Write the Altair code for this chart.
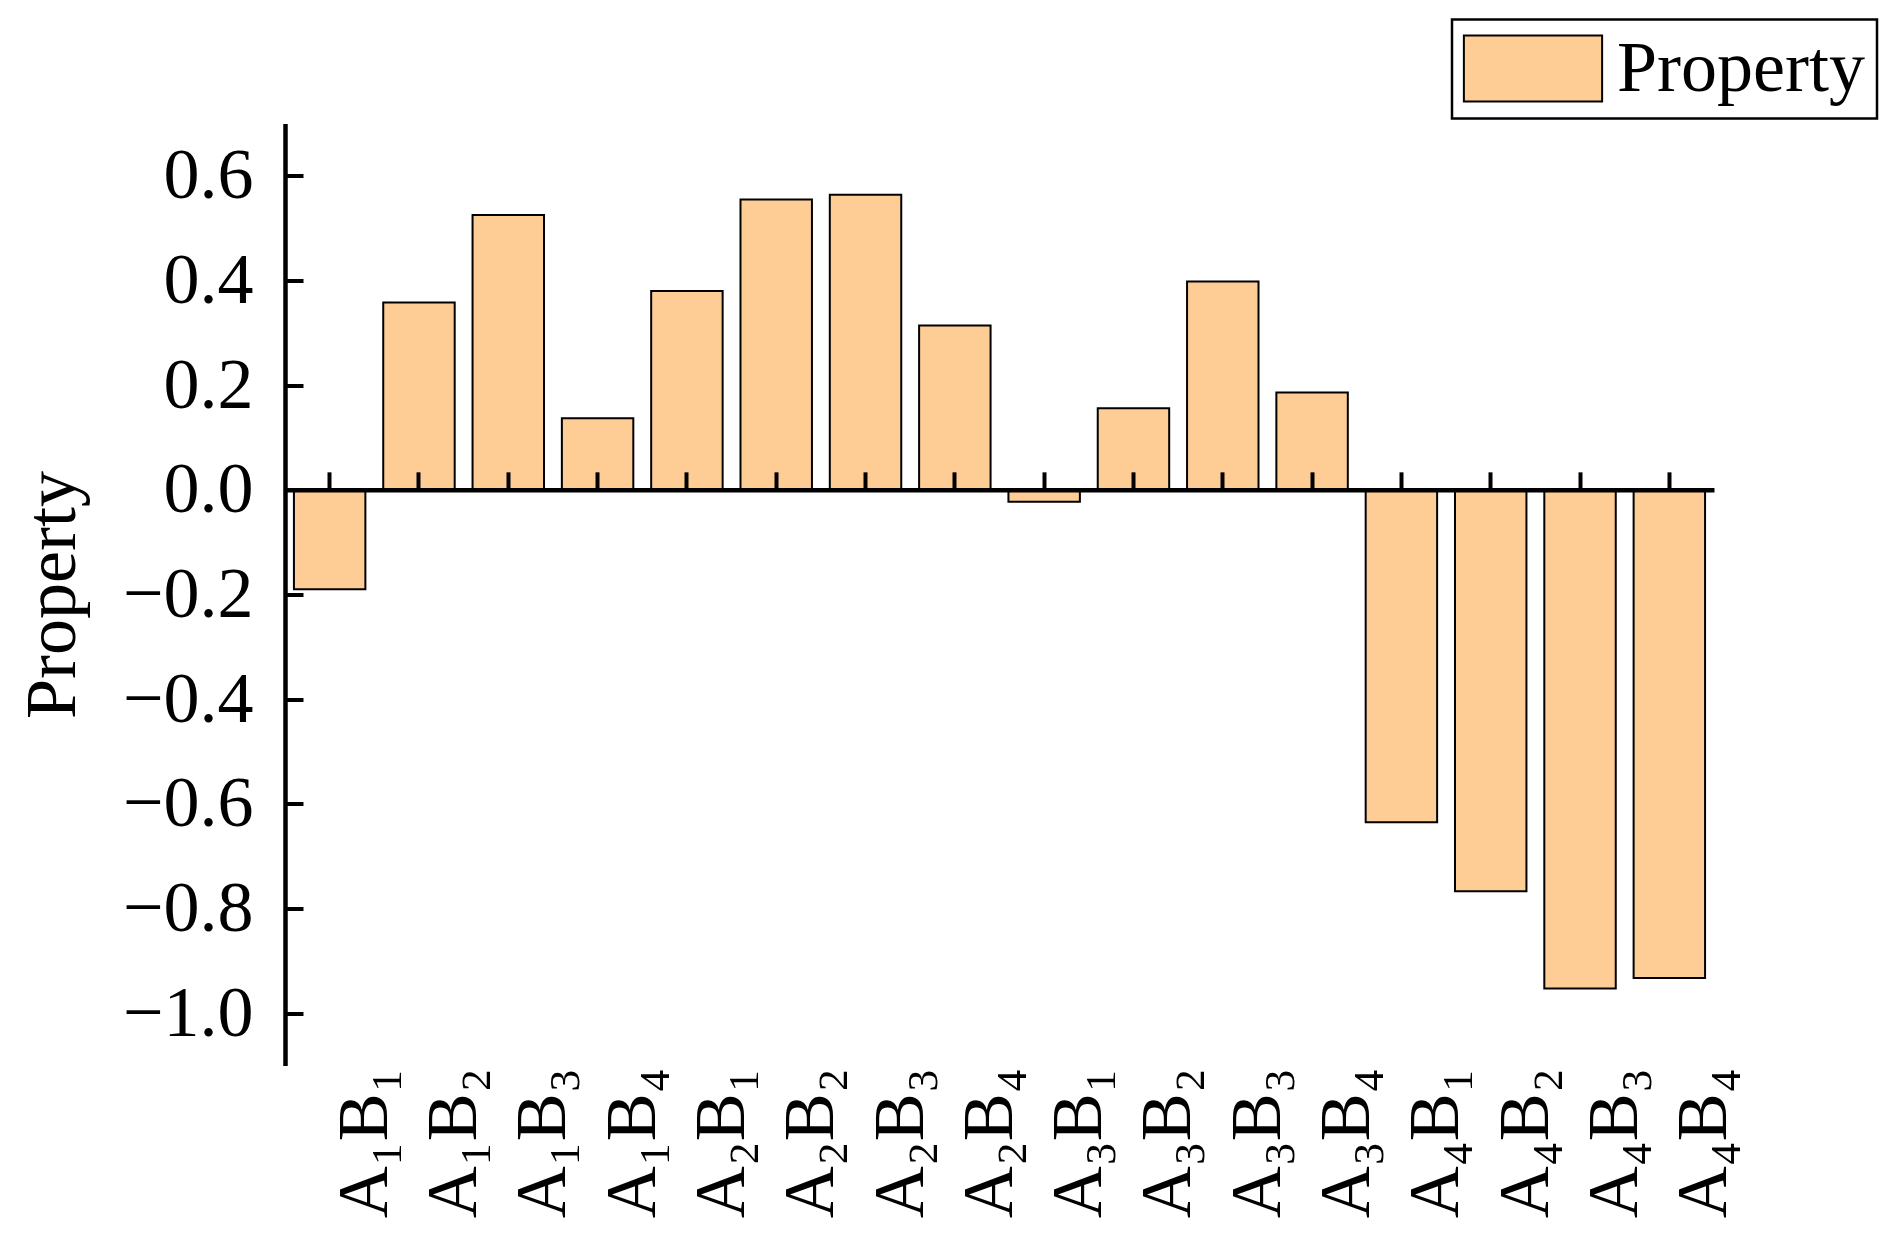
import altair as alt
import pandas as pd

categories = ["A₁B₁", "A₁B₂", "A₁B₃", "A₁B₄",
              "A₂B₁", "A₂B₂", "A₂B₃", "A₂B₄",
              "A₃B₁", "A₃B₂", "A₃B₃", "A₃B₄",
              "A₄B₁", "A₄B₂", "A₄B₃", "A₄B₄"]
values = [-0.19, 0.358, 0.525, 0.137,
          0.380, 0.555, 0.564, 0.314,
          -0.023, 0.156, 0.398, 0.186,
          -0.635, -0.767, -0.953, -0.933]
series_name = "Property"
y_tick_values = [-1.0, -0.8, -0.6, -0.4, -0.2, 0.0, 0.2, 0.4, 0.6]
y_domain = [-1.1, 0.7]

df = pd.DataFrame({
    "category": categories,
    "value": values,
    "series": [series_name] * len(categories),
})

W, H = 1429, 942
FONT = "Liberation Serif"
FILL = "#FECD96"
FS = 72
LINE = 4.5

zero_px = H * (y_domain[1] - 0) / (y_domain[1] - y_domain[0])

x_scale = alt.Scale(paddingInner=0.2, paddingOuter=0.1)
y_scale = alt.Scale(domain=y_domain, nice=False)

bars = alt.Chart(df).mark_bar(stroke="black", strokeWidth=2).encode(
    x=alt.X("category:N", sort=categories, scale=x_scale,
            axis=alt.Axis(orient="bottom", domain=False, ticks=False, tickSize=0,
                          labelAngle=270, labelAlign="right", labelBaseline="top",
                          labelPadding=2, labelFont=FONT, labelFontSize=FS,
                          labelColor="black", labelLimit=400, title=None, grid=False)),
    y=alt.Y("value:Q", scale=y_scale, stack=None,
            axis=alt.Axis(orient="left", values=y_tick_values, format=".1f",
                          domain=False, ticks=False, tickSize=0, labelPadding=32,
                          labelFont=FONT, labelFontSize=FS, labelColor="black",
                          title="Property", titleFont=FONT, titleFontSize=FS,
                          titleFontWeight="normal", titleColor="black",
                          titlePadding=33, grid=False)),
    color=alt.Color("series:N", scale=alt.Scale(range=[FILL]),
                    legend=alt.Legend(
                        title=None, orient="none", legendX=1167, legendY=-104,
                        symbolType="M-1.92,-0.917L1.92,-0.917L1.92,0.917L-1.92,0.917Z",
                        symbolSize=5184, symbolStrokeColor="black", symbolStrokeWidth=2,
                        symbolOffset=32, labelOffset=47, labelFont=FONT,
                        labelFontSize=FS, labelColor="black", labelLimit=400,
                        strokeColor="black", fillColor="white", padding=12)),
)

frame = alt.Chart(df).mark_bar(opacity=0).encode(
    x=alt.X("category:N", sort=categories, scale=x_scale,
            axis=alt.Axis(orient="top", offset=-zero_px, labels=False, ticks=True,
                          tickSize=18, tickWidth=4, tickColor="black",
                          domainWidth=LINE, domainColor="black", title=None,
                          grid=False, zindex=1)),
    y=alt.Y("value:Q", scale=y_scale, stack=None,
            axis=alt.Axis(orient="right", offset=-W, values=y_tick_values,
                          labels=False, tickSize=18, tickWidth=4,
                          tickColor="black", domainWidth=LINE, domainColor="black",
                          title=None, grid=False, zindex=1)),
)

chart = alt.layer(bars, frame).resolve_axis(
    x="independent", y="independent"
).properties(
    width=W, height=H,
    padding={"left": 277, "top": 115.5, "right": 170, "bottom": 160},
    autosize=alt.AutoSizeParams(type="none"),
).configure_view(stroke="transparent").configure_legend(strokeWidth=2.5)

chart.save("out.html", embed_options={"renderer": "svg", "actions": False})
